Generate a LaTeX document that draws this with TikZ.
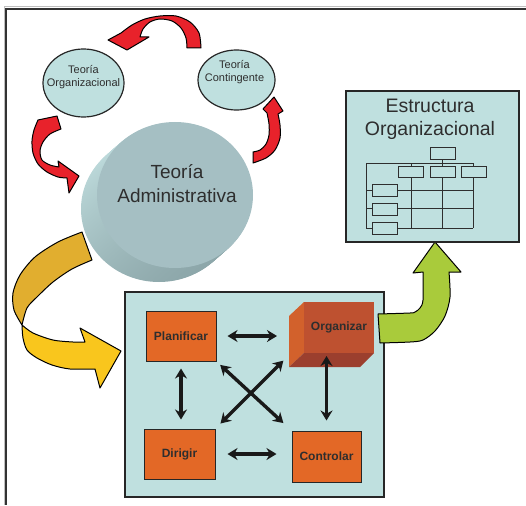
\documentclass[tikz,border=0pt]{standalone}
\usepackage{fontspec}
\setmainfont{Liberation Sans}
\usetikzlibrary{calc,arrows.meta,shapes.geometric}

\definecolor{pale}{HTML}{BFE0DF}
\definecolor{disc}{HTML}{A5BFC3}
\definecolor{sidelight}{HTML}{BEDBDC}
\definecolor{sidedark}{HTML}{8DA7AA}
\definecolor{redarr}{HTML}{E8222B}
\definecolor{gold}{HTML}{E1AE2F}
\definecolor{yell}{HTML}{F9C61D}
\definecolor{lime}{HTML}{A9CB3B}
\definecolor{orng}{HTML}{E36826}
\definecolor{orgfront}{HTML}{BE5130}
\definecolor{orgside}{HTML}{D2612C}
\definecolor{orgbot}{HTML}{9B3F2E}
\definecolor{ink}{HTML}{2E2E2E}

\tikzset{
  ribbon/.style={draw=black, line width=1pt, line join=round},
  theory/.style={ellipse, draw=black!85, line width=1.2pt, fill=pale, inner sep=0pt},
  task/.style={draw=black!85, line width=1pt, fill=orng, inner sep=0pt,
    font=\bfseries\fontsize{12}{14}\selectfont, text=ink},
  link/.style={{Stealth[length=10pt,width=12pt]}-{Stealth[length=10pt,width=12pt]},
    line width=3.4pt, black!90},
  chart/.style={draw=ink, line width=0.8pt},
}

\begin{document}
\begin{tikzpicture}[x=1pt,y=-1pt] % 1 unit = 1 pixel of the sheet
\useasboundingbox (0,0) rectangle (526,505);
\draw [black!25, line width=1pt] (526,7) -- (4,7) -- (4,505);
\draw [black!80, line width=1.6pt] (526,9) -- (6,9) -- (6,505); % frame

% red ribbons round the theories
\draw [ribbon, fill=redarr] (187,48) -- (201,48)
   -- plot [smooth] coordinates {(201,48) (199,33) (190,22) (176,16) (160,16) (145,19) (132,25) (121,33)}
   -- (108,40) -- (127,50) -- (149,37) -- (140,37)
   -- plot [smooth] coordinates {(140,37) (143,29) (150,22) (160,19) (172,21) (181,28) (186,38) (187,48)} -- cycle;
\draw [ribbon, fill=redarr] (38,120) -- (57,116) -- (61,129)
   -- plot [smooth] coordinates {(61,129) (50,134) (43,142) (40,151) (42,160) (50,165) (59,167)}
   -- (58,161) -- (79,176) -- (69,193) -- (67,178)
   -- plot [smooth] coordinates {(67,178) (58,177) (47,172) (38,164) (33,153) (32,141) (34,130) (38,120)} -- cycle;

\node [theory, minimum width=81pt, minimum height=68pt] (orgth) at (83.5,83) {};
\node [text=ink, font=\fontsize{11}{13.5}\selectfont, align=center] (orgtxt) at ($(orgth)+(0,-6)$) {Teoría\\Organizacional};
\node [theory, minimum width=77pt, minimum height=60pt] (conth) at (236.5,80) {};
\node [text=ink, font=\fontsize{11}{13.5}\selectfont, align=center] (contxt) at ($(conth)+(-2,-8)$) {Teoría\\Contingente};

% the disc
\foreach \i in {16,15,...,1}
   \shade [top color=sidelight, bottom color=sidedark, shading angle=25] ({175-\i},{195+0.875*\i}) ellipse (78 and 73);
\fill [disc] (175,195) ellipse (78 and 73);
\node [text=ink, font=\fontsize{19}{24}\selectfont, align=center] (adm) at (177,184) {Teoría\\Administrativa};

\draw [ribbon, fill=redarr] (253,152) -- (253,163)
   -- plot [smooth] coordinates {(253,163) (266,158) (275,150) (280,138) (280,125) (278,114)}
   -- (283,111) -- (274,97) -- (263,109) -- (267,113)
   -- plot [smooth] coordinates {(267,113) (269,124) (269,135) (266,144) (260,150) (253,152)} -- cycle;

% yellow ribbon into the box
\draw [ribbon, fill=gold] (82,232)
   -- plot [smooth] coordinates {(82,232) (58,242) (35,257) (20,275) (13,293) (14,310) (22,325)}
   -- plot [smooth] coordinates {(22,325) (27,308) (37,297) (53,282) (72,269) (92,260)} -- cycle;
\draw [ribbon, fill=yell] (22,325)
   -- plot [smooth] coordinates {(22,325) (33,333) (53,340) (73,342) (85,342)}
   -- (80,328) -- (121,351) -- (100,388) -- (95,369)
   -- plot [smooth] coordinates {(95,369) (70,369) (52,365) (37,358) (27,350) (23,338) (22,325)} -- cycle;

% functions
\node [draw=black!85, line width=1.2pt, fill=pale, minimum width=259pt, minimum height=205pt] (mainbox) at (254.5,394.5) {};
\node [task, minimum width=70pt, minimum height=50pt] (plan) at (181,336) {Planificar};
\node [task, minimum width=71pt, minimum height=50pt] (dir) at (179.5,454) {Dirigir};
\node [task, minimum width=69pt, minimum height=51pt] (ctrl) at (326.5,456.5) {Controlar};
\fill [orgside] (304,302) -- (289,316) -- (289,367) -- (304,353) -- cycle;
\fill [orgbot] (304,353) -- (289,367) -- (360,367) -- (374,353) -- cycle;
\node [fill=orgfront, minimum width=70pt, minimum height=51pt, inner sep=0pt,
       font=\bfseries\fontsize{12}{14}\selectfont, text=ink] (org) at (339,327.5) {Organizar};
\coordinate (orgc) at (289,355); % lower left corner of the block

\draw [link, shorten <=11pt, shorten >=12pt] (plan.east) -- (plan.east -| orgc);
\draw [link, shorten <=12pt, shorten >=15pt] (dir.east) -- (dir.east -| ctrl.west);
\draw [link, shorten <=7pt, shorten >=9pt] (plan.south) -- (plan.south |- dir.north);
\draw [link, shorten <=10pt, shorten >=1pt] (ctrl.north) -- (ctrl.north |- orgc);
\draw [link, shorten <=5pt, shorten >=11pt] (plan.south east) -- (ctrl.north west);
\draw [link, shorten <=7pt, shorten >=8pt] (dir.north east) -- (orgc);

% green ribbon up to the chart
\draw [ribbon, fill=lime] (378,314) -- (380,343)
   -- plot [smooth] coordinates {(380,343) (410,342) (423,340) (435,331) (445,316) (450,297) (449,272)}
   -- (461,272) -- (435,242) -- (413,273) -- (423,272)
   -- plot [smooth] coordinates {(423,272) (423,300) (420,308) (415,312) (410,313) (378,314)} -- cycle;

% structure chart
\node [draw=black!85, line width=1.2pt, fill=pale, minimum width=173pt, minimum height=151pt, inner sep=0pt] (estbox) at (432.5,166.5) {};
\node [text=ink, font=\fontsize{19.5}{23}\selectfont, align=center] (esttxt) at (430,119.5) {Estructura\\Organizacional};
\draw [chart] (366,163) -- (473,163);
\foreach \x in {366,411,442,473}
   \draw [chart] (\x,163) -- (\x,228);
\draw [chart] (442,159) -- (442,163);
\foreach \y in {190,208,228}
   \draw [chart] (366,\y) -- (473,\y);
\foreach \x in {398,430,461}
   \draw [chart, fill=pale] (\x,166) rectangle ++(25.5,11);
\draw [chart, fill=pale] (430,147) rectangle (455,159);
\foreach \y in {184,203,222}
   \draw [chart, fill=pale] (372,\y) rectangle ++(25,12);
\end{tikzpicture}
\end{document}
